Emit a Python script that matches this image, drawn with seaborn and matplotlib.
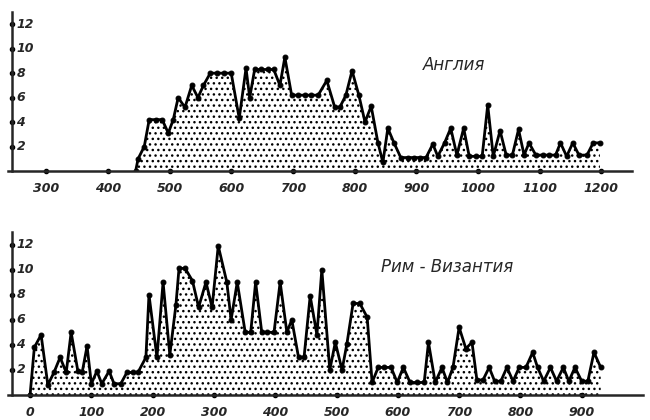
"""Два графика: Англия и Рим - Византия."""
import matplotlib
matplotlib.use("Agg")
import matplotlib.pyplot as plt
import pandas as pd
import seaborn as sns

# Англия
top_years = [445, 449, 459, 467, 478, 488, 498, 506, 514, 525, 536, 546, 555, 566, 577, 588, 600, 613, 624,
             630, 638, 649, 659, 669, 679, 687, 698, 708, 719, 730, 741, 755, 768, 776, 786, 796, 807, 817,
             827, 838, 846, 854, 864, 875, 886, 896, 906, 916, 927, 935, 946, 956, 966, 977, 986, 997, 1007,
             1016, 1025, 1036, 1046, 1056, 1066, 1075, 1083, 1094, 1105, 1115, 1126, 1134, 1144, 1154, 1164,
             1177, 1187, 1198]
top_values = [0, 1.0, 2.0, 4.2, 4.2, 4.2, 3.1, 4.2, 6.0, 5.2, 7.0, 6.0, 7.0, 8.0, 8.0, 8.0, 8.0, 4.3, 8.4,
              6.0, 8.3, 8.3, 8.3, 8.3, 7.0, 9.3, 6.2, 6.2, 6.2, 6.2, 6.2, 7.4, 5.2, 5.2, 6.2, 8.2, 6.2, 4.0,
              5.3, 2.3, 0.7, 3.5, 2.3, 1.1, 1.1, 1.1, 1.1, 1.1, 2.2, 1.2, 2.3, 3.5, 1.3, 3.5, 1.2, 1.2, 1.2,
              5.4, 1.2, 3.3, 1.3, 1.3, 3.4, 1.3, 2.3, 1.3, 1.3, 1.3, 1.3, 2.3, 1.2, 2.3, 1.3,
              1.3, 2.3, 2.3]
top_xticks = [300, 400, 500, 600, 700, 800, 900, 1000, 1100, 1200]

# Рим - Византия
bot_years = [0, 7, 18, 29, 39, 49, 59, 67, 78, 85, 93, 100, 109, 117, 129, 137, 148, 158, 168, 176,
             189, 194, 207, 217, 228, 238, 243, 253, 265, 275, 287, 297, 307, 321, 328, 338, 351, 360, 368,
             378, 387, 398, 408, 419, 427, 438, 447, 457, 468, 476, 489, 498, 509, 517, 527, 538, 550, 558,
             568, 577, 589, 599, 609, 620, 631, 643, 650, 661, 672, 681, 690, 700, 711, 721, 729, 739, 749,
             758, 768, 778, 788, 798, 809, 820, 828, 838, 849, 859, 870, 879, 889, 900, 910, 920, 931]
bot_values = [0, 3.8, 4.8, 0.8, 1.8, 3.0, 1.8, 5.0, 1.9, 1.8, 3.9, 0.9, 1.9, 0.9, 1.9, 0.9, 0.9, 1.8, 1.8, 1.8,
              3.0, 8.0, 3.0, 9.0, 3.2, 7.2, 10.1, 10.1, 9.1, 7.0, 9.0, 7.0, 11.9, 9.0, 6.0, 9.0, 5.0, 5.0, 9.0,
              5.0, 5.0, 5.0, 9.0, 5.0, 6.0, 3.0, 3.0, 7.9, 4.8, 10.0, 2.0, 4.2, 2.0, 4.1, 7.3, 7.3, 6.2, 1.0,
              2.2, 2.2, 2.2, 1.0, 2.2, 1.0, 1.0, 1.0, 4.2, 1.0, 2.2, 1.0, 2.2, 5.4, 3.7, 4.2, 1.2, 1.2, 2.2,
              1.1, 1.1, 2.2, 1.1, 2.2, 2.2, 3.4, 2.2, 1.1, 2.2, 1.1, 2.2, 1.1, 2.2, 1.1, 1.1, 3.4, 2.2]
bot_xticks = [0, 100, 200, 300, 400, 500, 600, 700, 800, 900]

yticks = [2, 4, 6, 8, 10, 12]


def draw_panel(ax, years, values, xticks, xlim, spine_x, title, title_pos):
    df = pd.DataFrame({"year": years, "value": values})
    ax.fill_between(df["year"], df["value"], facecolor="none", edgecolor="black", hatch="...", linewidth=0)
    sns.lineplot(data=df, x="year", y="value", ax=ax, color="black", linewidth=2,
                 marker="o", markersize=3.5, markeredgecolor="black")

    ax.set_xlim(*xlim)
    ax.set_ylim(0, 13)
    ax.set_xlabel("")
    ax.set_ylabel("")
    sns.despine(ax=ax)
    ax.spines["left"].set_position(("data", spine_x))
    ax.spines["left"].set_linewidth(1.8)
    ax.spines["bottom"].set_linewidth(1.8)

    ax.set_xticks(xticks)
    ax.set_yticks([])
    ax.tick_params(axis="x", length=0, pad=8)
    for lab in ax.get_xticklabels():
        lab.set_fontstyle("italic")
        lab.set_fontweight("bold")
        lab.set_fontsize(9)

    # точки-засечки на осях
    ax.plot(xticks, [0] * len(xticks), "o", color="black", markersize=3, clip_on=False)
    ax.plot([spine_x] * len(yticks), yticks, "o", color="black", markersize=3, clip_on=False)
    for t in yticks:
        ax.annotate(str(t), (spine_x, t), xytext=(3, 0), textcoords="offset points",
                    ha="left", va="center", fontsize=9, fontstyle="italic", fontweight="bold")

    ax.text(title_pos[0], title_pos[1], title, fontsize=12, fontstyle="italic", ha="center", va="center")


sns.set_theme(style="white")
plt.rcParams["font.family"] = ["DejaVu Sans"]
plt.rcParams["hatch.linewidth"] = 1.0

fig = plt.figure(figsize=(6.5, 4.2), dpi=100)
ax_top = fig.add_axes([8 / 650, 1 - 171 / 420, 624 / 650, 159 / 420])
ax_bot = fig.add_axes([8 / 650, 1 - 395 / 420, 635 / 650, 163 / 420])

draw_panel(ax_top, top_years, top_values, top_xticks, (238, 1250), 245, "Англия", (962, 8.7))
draw_panel(ax_bot, bot_years, bot_values, bot_xticks, (-36, 1000), -29, "Рим - Византия", (680, 10.2))

fig.savefig("out.png", dpi=100)
